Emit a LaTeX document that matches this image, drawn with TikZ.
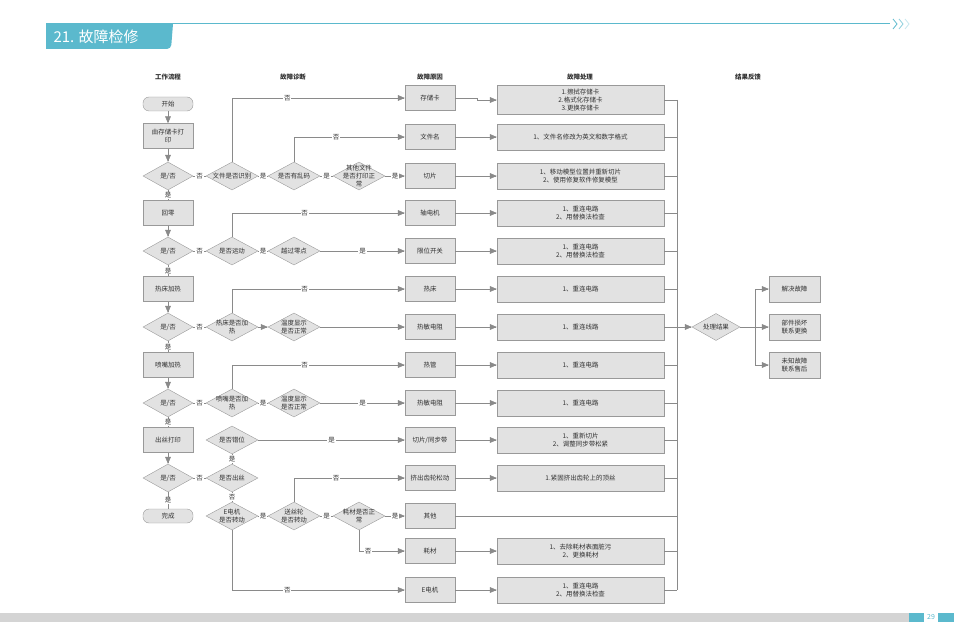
\documentclass[tikz,border=0pt]{standalone}
\usepackage{fontspec}
\setmainfont{Noto Sans CJK SC}
\usepackage{tikz}
\usetikzlibrary{positioning, calc, arrows, shapes.geometric}
\tikzset{>=triangle 45}
\definecolor{tealbar}{HTML}{5BB9CD}
\definecolor{boxfill}{HTML}{E2E2E2}
\definecolor{boxline}{HTML}{999999}
\definecolor{wire}{HTML}{8A8A8A}
\definecolor{ink}{HTML}{303030}
\definecolor{barfill}{HTML}{D4D4D4}

\begin{document}
\begin{tikzpicture}
    [x=1bp, y=-1bp,
      every node/.style={text=ink},
      txt/.style={font=\fontsize{6.5}{7.8}\selectfont},
      box/.style={txt, draw=boxline, fill=boxfill, minimum width=50bp, minimum height=25bp, inner sep=1bp, align=center},
      fix/.style={box, minimum width=167bp, minimum height=26bp},
      term/.style={box, rounded corners=6bp, minimum height=14bp},
      dec/.style={diamond, draw=boxline, fill=boxfill, minimum width=52bp, minimum height=28bp, inner sep=0pt,
        label={[txt, align=center]center:#1}},
      lab/.style={txt, fill=white, inner sep=0.8bp},
      head/.style={font=\fontsize{6.5}{7.8}\selectfont\bfseries},
      link/.style={draw=wire, line width=0.6bp}]

    \useasboundingbox (0,0) rectangle (954,636);

    \fill[tealbar] (46,24) -- (173,24) [rounded corners=4bp]-- (171,49) [sharp corners]-- (46,49) -- cycle;
    \draw[tealbar, line width=1bp] (46,24) -- (890,24);
    \foreach \cx/\op in {893/1, 899/0.7, 905/0.35}
      \draw[tealbar, opacity=\op, line width=0.8bp] (\cx,19) -- (\cx+4,24) -- (\cx,29);
    \node[anchor=west, text=white, font=\fontsize{15}{15}\selectfont] (title) at (50,37) {21. 故障检修};

    \fill[barfill] (0,613) rectangle (909,622);
    \fill[tealbar] (909,613) rectangle (924,622);
    \fill[tealbar] (938,613) rectangle (954,622);
    \node[text=tealbar, font=\fontsize{7}{7}\selectfont, inner sep=0pt] (page) at (931,617.5) {29};

    \node[head] (h-flow) at (168,77) {工作流程};
    \node[head] (h-diag) at (293,77) {故障诊断};
    \node[head] (h-cause) at (430,77) {故障原因};
    \node[head] (h-fix) at (580,77) {故障处理};
    \node[head] (h-res) at (748,77) {结果反馈};

    \node[term] (start) at (168,104) {开始};
    \node[box] (sd-print) at (168,136) {由存储卡打\\印};
    \node[dec={是/否}, minimum width=50bp] (yn-1) at (168,176) {};
    \node[box] (home) at (168,213) {回零};
    \node[dec={是/否}, minimum width=50bp] (yn-2) at (168,251) {};
    \node[box] (bed-heat) at (168,289) {热床加热};
    \node[dec={是/否}, minimum width=50bp] (yn-3) at (168,327) {};
    \node[box] (noz-heat) at (168,365) {喷嘴加热};
    \node[dec={是/否}, minimum width=50bp] (yn-4) at (168,403) {};
    \node[box] (print) at (168,440) {出丝打印};
    \node[dec={是/否}, minimum width=50bp] (yn-5) at (168,478) {};
    \node[term] (done) at (168,516) {完成};

    \draw[link,->] (start) -- (sd-print);
    \draw[link,->] (sd-print) -- (yn-1);
    \draw[link] (yn-1) -- node[lab]{是} (home);
    \draw[link,->] (home) -- (yn-2);
    \draw[link] (yn-2) -- node[lab]{是} (bed-heat);
    \draw[link,->] (bed-heat) -- (yn-3);
    \draw[link] (yn-3) -- node[lab]{是} (noz-heat);
    \draw[link,->] (noz-heat) -- (yn-4);
    \draw[link] (yn-4) -- node[lab]{是} (print);
    \draw[link,->] (print) -- (yn-5);
    \draw[link] (yn-5) -- node[lab]{是} (done);

    \node[dec={文件是否识别}] (d-file) at (232,176) {};
    \node[dec={是否有乱码}] (d-garb) at (294,176) {};
    \node[dec={其他文件\\是否打印正\\常}] (d-other) at (359,176) {};
    \node[dec={是否运动}] (d-move) at (232,251) {};
    \node[dec={越过零点}] (d-zero) at (294,251) {};
    \node[dec={热床是否加\\热}] (d-bed) at (232,327) {};
    \node[dec={温度显示\\是否正常}] (d-temp-1) at (294,327) {};
    \node[dec={喷嘴是否加\\热}] (d-noz) at (232,403) {};
    \node[dec={温度显示\\是否正常}] (d-temp-2) at (294,403) {};
    \node[dec={是否错位}] (d-shift) at (232,440) {};
    \node[dec={是否出丝}] (d-extr) at (232,478) {};
    \node[dec={E电机\\是否转动}] (d-emot) at (232,516) {};
    \node[dec={送丝轮\\是否转动}] (d-feed) at (294,516) {};
    \node[dec={耗材是否正\\常}] (d-fil) at (359,516) {};

    \node[box] (c-sd) at (430,98) {存储卡};
    \node[box] (c-name) at (430,137) {文件名};
    \node[box] (c-slice) at (430,176) {切片};
    \node[box] (c-axis) at (430,213) {轴电机};
    \node[box] (c-limit) at (430,251) {限位开关};
    \node[box] (c-bed) at (430,289) {热床};
    \node[box] (c-therm-1) at (430,327) {热敏电阻};
    \node[box] (c-heater) at (430,365) {热管};
    \node[box] (c-therm-2) at (430,403) {热敏电阻};
    \node[box] (c-belt) at (430,440) {切片/同步带};
    \node[box] (c-gear) at (430,478) {挤出齿轮松动};
    \node[box] (c-other) at (430,516) {其他};
    \node[box] (c-fil) at (430,551) {耗材};
    \node[box] (c-emot) at (430,590) {E电机};

    \draw[link] (yn-1) -- node[lab]{否} (d-file);
    \draw[link,->] (d-file) |- node[lab, pos=0.66]{否} (c-sd);
    \draw[link] (d-file) -- node[lab]{是} (d-garb);
    \draw[link,->] (d-garb) |- node[lab, pos=0.69]{否} (c-name);
    \draw[link] (d-garb) -- node[lab]{是} (d-other);
    \draw[link,->] (d-other) -- node[lab]{是} (c-slice);

    \draw[link] (yn-2) -- node[lab]{否} (d-move);
    \draw[link,->] (d-move) |- node[lab, pos=0.71]{否} (c-axis);
    \draw[link] (d-move) -- node[lab]{是} (d-zero);
    \draw[link,->] (d-zero) -- node[lab]{是} (c-limit);

    \draw[link] (yn-3) -- node[lab]{否} (d-bed);
    \draw[link,->] (d-bed) |- node[lab, pos=0.71]{否} (c-bed);
    \draw[link,->] (d-bed) -- (d-temp-1);
    \draw[link,->] (d-temp-1) -- (c-therm-1);

    \draw[link] (yn-4) -- node[lab]{否} (d-noz);
    \draw[link,->] (d-noz) |- node[lab, pos=0.71]{否} (c-heater);
    \draw[link] (d-noz) -- node[lab]{是} (d-temp-2);
    \draw[link,->] (d-temp-2) -- node[lab]{是} (c-therm-2);

    \draw[link,->] (d-shift) -- node[lab]{是} (c-belt);
    \draw[link] (d-shift) -- node[lab]{是} (d-extr);
    \draw[link] (yn-5) -- node[lab]{否} (d-extr);
    \draw[link] (d-extr) -- node[lab]{否} (d-emot);
    \draw[link] (d-emot) -- node[lab]{是} (d-feed);
    \draw[link,->] (d-feed) |- node[lab, pos=0.69]{否} (c-gear);
    \draw[link] (d-feed) -- node[lab]{是} (d-fil);
    \draw[link,->] (d-fil) -- node[lab]{是} (c-other);
    \draw[link,->] (d-fil) |- node[lab, pos=0.6]{否} (c-fil);
    \draw[link,->] (d-emot) |- node[lab, pos=0.66]{否} (c-emot);

    \node[fix, minimum height=29bp] (p-sd) at (580.5,100) {1.擦拭存储卡\\2.格式化存储卡\\3.更换存储卡};
    \node[fix] (p-name) at (580.5,137) {1、文件名修改为英文和数字格式};
    \node[fix] (p-slice) at (580.5,176) {1、移动模型位置并重新切片\\2、使用修复软件修复模型};
    \node[fix] (p-axis) at (580.5,213) {1、重连电路\\2、用替换法检查};
    \node[fix] (p-limit) at (580.5,251) {1、重连电路\\2、用替换法检查};
    \node[fix] (p-bed) at (580.5,289) {1、重连电路};
    \node[fix] (p-therm-1) at (580.5,327) {1、重连线路};
    \node[fix] (p-heater) at (580.5,365) {1、重连电路};
    \node[fix] (p-therm-2) at (580.5,403) {1、重连电路};
    \node[fix] (p-belt) at (580.5,440) {1、重新切片\\2、调整同步带松紧};
    \node[fix] (p-gear) at (580.5,478) {1.紧固挤出齿轮上的顶丝};
    \node[fix] (p-fil) at (580.5,551) {1、去除耗材表面脏污\\2、更换耗材};
    \node[fix] (p-emot) at (580.5,590) {1、重连电路\\2、用替换法检查};

    \draw[link,->] (c-sd.east) -- ++(22,0) |- (p-sd);
    \foreach \n in {name, slice, axis, limit, bed, therm-1, heater, therm-2, belt, gear, fil, emot}
      \draw[link,->] (c-\n) -- (p-\n);

    \coordinate (bus-top) at (677,100);
    \coordinate (bus-bot) at (677,590);
    \draw[link, line width=0.9bp] (bus-top) -- (bus-bot);
    \foreach \n in {sd, name, slice, axis, limit, bed, therm-1, heater, therm-2, belt, gear, fil, emot}
      \draw[link] (p-\n.east) -- (p-\n.east -| bus-top);
    \draw[link] (c-other.east) -- (c-other.east -| bus-top);

    \node[dec={处理结果}, minimum width=48bp, minimum height=27bp] (res) at (716,327) {};
    \coordinate (fork) at (755,327);
    \node[box, minimum width=51bp, minimum height=26bp] (r-ok) at (794.5,289) {解决故障};
    \node[box, minimum width=51bp, minimum height=26bp] (r-part) at (794.5,327) {部件损坏\\联系更换};
    \node[box, minimum width=51bp, minimum height=26bp] (r-unk) at (794.5,365) {未知故障\\联系售后};

    \draw[link,->] (res.west -| bus-top) -- (res);
    \draw[link,->] (res) -- (r-part);
    \draw[link,->] (fork) |- (r-ok);
    \draw[link,->] (fork) |- (r-unk);
  \end{tikzpicture}
\end{document}
